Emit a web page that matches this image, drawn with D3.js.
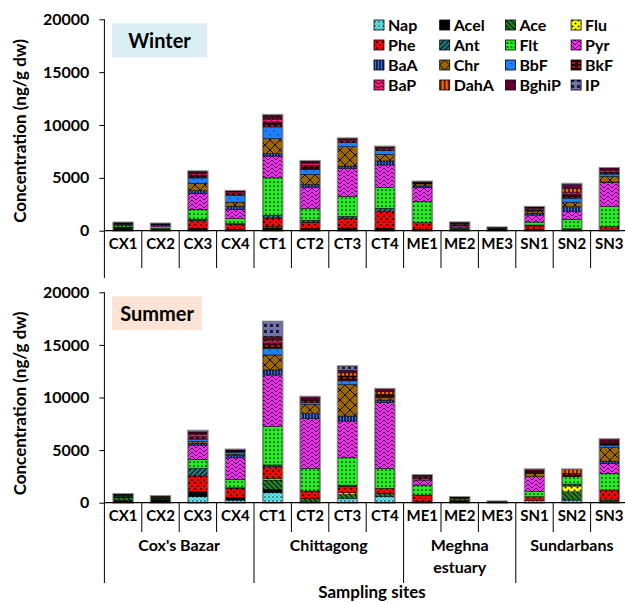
<!DOCTYPE html>
<html>
<head>
<meta charset="utf-8">
<script src="https://cdn.jsdelivr.net/npm/d3@7"></script>
<style>
  html, body { margin: 0; padding: 0; background: #fff; }
  svg { display: block; font-family: Lato, "Open Sans", sans-serif; font-weight: 700; }
</style>
</head>
<body>
<svg id="chart" width="625" height="603"></svg>
<script>
// PAH compounds (stacking order, bottom to top)
const compounds = ["Nap","Acel","Ace","Flu","Phe","Ant","Flt","Pyr","BaA","Chr","BbF","BkF","BaP","DahA","BghiP","IP"];
const sites = ["CX1","CX2","CX3","CX4","CT1","CT2","CT3","CT4","ME1","ME2","ME3","SN1","SN2","SN3"];
const regions = [
  { name: ["Cox's Bazar"], from: 0, to: 4 },
  { name: ["Chittagong"], from: 4, to: 8 },
  { name: ["Meghna", "estuary"], from: 8, to: 11 },
  { name: ["Sundarbans"], from: 11, to: 14 }
];
const yTicks = [0, 5000, 10000, 15000, 20000];

// Winter concentrations (ng/g dw): one row per compound, one column per site
const winter = [
  [20,10,40,20,50,30,40,40,20,10,0,20,20,20],
  [150,80,120,70,200,120,150,130,80,100,170,80,110,40],
  [80,40,60,40,150,50,60,50,30,30,30,30,0,0],
  [10,5,0,0,0,0,0,0,0,0,0,0,0,0],
  [60,40,730,470,800,600,890,1580,630,60,30,320,50,320],
  [20,10,130,60,250,190,220,320,0,10,0,90,0,0],
  [150,180,950,470,3550,1110,1900,1960,1990,90,30,280,880,1890],
  [120,160,1510,880,2060,2030,2630,2140,1360,150,20,660,730,2270],
  [20,20,250,310,220,250,220,380,130,50,0,160,470,60],
  [50,40,700,380,1430,950,1840,630,190,120,20,220,440,540],
  [30,30,500,660,1110,480,380,350,40,40,0,60,380,220],
  [20,20,250,220,410,380,200,200,100,50,10,190,320,190],
  [20,20,190,100,320,200,100,80,30,40,0,60,250,190],
  [5,5,40,20,100,60,30,20,0,0,0,30,320,40],
  [10,20,100,70,250,150,80,80,50,40,10,60,400,150],
  [5,0,50,0,60,0,0,0,0,0,0,0,70,0]
];

// Summer concentrations (ng/g dw)
const summer = [
  [20,0,570,250,950,60,410,570,0,0,0,190,250,100],
  [200,300,475,250,320,0,0,0,95,200,80,0,0,0],
  [250,60,0,0,890,320,370,320,0,200,20,0,790,150],
  [10,0,0,0,160,0,160,0,0,0,0,0,540,0],
  [50,40,1490,855,1110,730,630,475,630,40,0,380,0,950],
  [80,10,730,60,160,0,100,0,0,0,0,0,190,0],
  [60,40,855,790,3640,2150,2600,1900,950,50,0,475,700,1580],
  [40,30,1360,2060,4910,4720,3490,6240,475,0,0,1430,0,950],
  [10,10,160,220,475,475,475,250,0,0,0,0,0,220],
  [40,100,190,130,1430,890,3000,250,160,20,10,320,0,1300],
  [10,0,220,190,630,160,350,0,0,0,0,0,0,220],
  [20,30,220,120,475,300,460,300,150,20,0,200,320,250],
  [10,0,250,60,250,0,0,0,0,0,0,0,0,100],
  [0,0,80,0,130,0,300,250,0,0,0,0,380,0],
  [20,10,120,70,250,270,250,270,170,10,20,180,0,220],
  [0,0,120,0,1430,0,380,0,0,0,0,0,0,0]
];

const svg = d3.select("#chart");
const defs = svg.append("defs");

// Hatched fills, one per compound
function pat(id, w, h, bg, draw) {
  const p = defs.append("pattern").attr("id", id)
    .attr("patternUnits", "userSpaceOnUse").attr("width", w).attr("height", h);
  p.append("rect").attr("width", w).attr("height", h).attr("fill", bg);
  draw(p);
}
const dot = (p, cx, cy, r, c) => p.append("circle").attr("cx", cx).attr("cy", cy).attr("r", r).attr("fill", c);
const line = (p, d, c, sw) => p.append("path").attr("d", d).attr("stroke", c).attr("stroke-width", sw).attr("fill", "none");

pat("p-Nap", 4, 4, "#63e3ea", p => { dot(p, 1, 1, 0.7, "#000"); dot(p, 3, 3, 0.5, "#1a5f66"); });
pat("p-Acel", 4, 4, "#000", p => {});
pat("p-Ace", 5, 5, "#1f8c1f", p => { line(p, "M0,0L5,5M-1,4L1,6M4,-1L6,1", "#000", 1.1); });
pat("p-Flu", 6, 6, "#ffff00", p => { dot(p, 1.5, 1.5, 0.9, "#000"); dot(p, 4.5, 4.5, 0.9, "#000"); });
pat("p-Phe", 6, 6, "#ff0000", p => { dot(p, 0, 0, 1.1, "#000"); dot(p, 6, 0, 1.1, "#000"); dot(p, 0, 6, 1.1, "#000"); dot(p, 6, 6, 1.1, "#000"); dot(p, 3, 3, 1.1, "#000"); });
pat("p-Ant", 5, 5, "#1f7f85", p => { line(p, "M0,5L5,0M-1,1L1,-1M4,6L6,4", "#000", 1.1); });
pat("p-Flt", 4, 4, "#22ee22", p => { dot(p, 2, 2, 0.85, "#000"); });
pat("p-Pyr", 8, 8, "#ff22ff", p => { line(p, "M0,0L4,4L8,0M0,4L4,8L8,4", "#000", 0.9); });
pat("p-BaA", 3, 3, "#0f2a66", p => { line(p, "M1.5,0V3", "#4a7ad8", 0.9); });
pat("p-Chr", 10, 10, "#9c6600", p => { line(p, "M0,0L10,10M10,0L0,10", "#000", 0.9); });
pat("p-BbF", 8, 8, "#1e80ff", p => { dot(p, 2, 3, 0.6, "#000"); line(p, "M5,6L6.5,7", "#000", 0.7); });
pat("p-BkF", 6, 4, "#2a0606", p => { line(p, "M1,2H4", "#d81a1a", 1.6); });
pat("p-BaP", 6, 4, "#ff1a80", p => { line(p, "M0,2Q1.5,0 3,2T6,2", "#000", 0.8); });
pat("p-DahA", 4, 4, "#ff6a00", p => { line(p, "M1,0V4", "#000", 1.3); });
pat("p-BghiP", 6, 6, "#640032", p => { dot(p, 3, 3, 0.7, "#000"); });
pat("p-IP", 6, 6, "#7272aa", p => { p.append("rect").attr("x", 0).attr("y", 0).attr("width", 3).attr("height", 3).attr("fill", "#1a1a30"); });

const fillOf = c => `url(#p-${c})`;

// Shared horizontal layout
const x0 = 104.4, step = 37.4;
const x = d3.scaleBand().domain(sites).range([x0, x0 + step * sites.length])
  .paddingInner(0.48).paddingOuter(0.24);
const bound = i => x0 + step * i;

function panel(values, yBottom, yTop, season, axisEnd) {
  const y = d3.scaleLinear().domain([0, 20000]).range([yBottom, yTop]);
  const rows = sites.map((s, j) => {
    const r = { site: s };
    compounds.forEach((c, i) => { r[c] = values[i][j]; });
    return r;
  });
  const stacked = d3.stack().keys(compounds)(rows);
  const g = svg.append("g");

  // season tag
  const tag = g.append("g");
  tag.append("rect").attr("x", 112).attr("y", yTop + 4).attr("width", season.w).attr("height", 34)
    .attr("fill", season.bg);
  tag.append("text").attr("x", 112 + season.w / 2).attr("y", yTop + 21).attr("dy", "0.36em")
    .attr("text-anchor", "middle").attr("font-size", 20).text(season.name);

  // stacked bars
  stacked.forEach(layer => {
    g.append("g").selectAll("rect").data(layer).join("rect")
      .attr("x", d => x(d.data.site))
      .attr("width", x.bandwidth())
      .attr("y", d => y(d[1]))
      .attr("height", d => Math.max(0, y(d[0]) - y(d[1])))
      .attr("fill", fillOf(layer.key))
      .attr("stroke", "#000").attr("stroke-width", 0.5);
  });
  // bar outline
  const total = d => d3.sum(compounds, c => d[c]);
  g.append("g").selectAll("rect").data(rows).join("rect")
    .attr("x", d => x(d.site) - 0.5)
    .attr("width", x.bandwidth() + 1)
    .attr("y", d => y(total(d)) - 0.5)
    .attr("height", d => y(0) - y(total(d)) + 1)
    .attr("fill", "none").attr("stroke", "#8c8c8c").attr("stroke-width", 1);

  // y axis
  const ay = g.append("g").attr("transform", `translate(${x0},0)`)
    .call(d3.axisLeft(y).tickValues(yTicks).tickSize(5).tickPadding(10).tickFormat(d3.format("d")));
  ay.select(".domain").remove();
  ay.selectAll("line").attr("stroke", "#000");
  ay.selectAll("text").attr("font-size", 16).attr("font-weight", 700).attr("fill", "#000")
    .attr("font-family", "Lato, sans-serif");
  g.append("line").attr("x1", x0).attr("x2", x0).attr("y1", yTop).attr("y2", axisEnd)
    .attr("stroke", "#000").attr("stroke-width", 1);

  // baseline
  g.append("line").attr("x1", x0).attr("x2", 625).attr("y1", y(0)).attr("y2", y(0))
    .attr("stroke", "#000").attr("stroke-width", 1.2);

  // y title
  g.append("text").attr("transform", `translate(20,${(yTop + yBottom) / 2 + 6}) rotate(-90)`)
    .attr("text-anchor", "middle").attr("dy", "0.35em").attr("font-size", 17)
    .text("Concentration (ng/g dw)");

  // site labels
  g.append("g").selectAll("text").data(sites).join("text")
    .attr("x", d => x(d) + x.bandwidth() / 2).attr("y", y(0) + 13).attr("dy", "0.36em")
    .attr("text-anchor", "middle").attr("font-size", 15).text(d => d);
  return { g, y };
}

// Winter panel
const winterPanel = panel(winter, 230.7, 19.3, { name: "Winter", bg: "#dbeef4", w: 95 }, 278);
winterPanel.g.append("g").selectAll("line").data(d3.range(1, sites.length + 1)).join("line")
  .attr("x1", bound).attr("x2", bound).attr("y1", winterPanel.y(0)).attr("y2", 268)
  .attr("stroke", "#000").attr("stroke-width", 1);

// Summer panel
const summerPanel = panel(summer, 502.7, 292.3, { name: "Summer", bg: "#fbe4d5", w: 90 }, 583);
const groupEdges = regions.map(r => r.to);
summerPanel.g.append("g").selectAll("line").data(d3.range(1, sites.length + 1)).join("line")
  .attr("x1", bound).attr("x2", bound).attr("y1", summerPanel.y(0))
  .attr("y2", i => groupEdges.includes(i) ? 583 : 532)
  .attr("stroke", "#000").attr("stroke-width", 1);

// region labels
const rg = svg.append("g");
regions.forEach(r => {
  const cx = (bound(r.from) + bound(r.to)) / 2;
  const t = rg.append("text").attr("x", cx).attr("y", 551)
    .attr("dy", "0.36em").attr("text-anchor", "middle").attr("font-size", 16);
  r.name.forEach((n, k) => t.append("tspan").attr("x", cx).attr("dy", k ? 22 : 0).text(n));
});
svg.append("text").attr("x", 372).attr("y", 592).attr("dy", "0.36em")
  .attr("text-anchor", "middle").attr("font-size", 17).text("Sampling sites");

// legend: 4 columns x 4 rows
const lg = svg.append("g");
const legItems = lg.selectAll("g").data(compounds).join("g")
  .attr("transform", (d, i) => `translate(${374 + (i % 4) * 65.7},${25 + Math.floor(i / 4) * 20})`);
legItems.append("rect").attr("x", 0).attr("y", -5).attr("width", 10).attr("height", 10)
  .attr("fill", d => fillOf(d)).attr("stroke", "#000").attr("stroke-width", 0.8);
legItems.append("text").attr("x", 14).attr("dy", "0.36em").attr("font-size", 16).text(d => d);
</script>
</body>
</html>
